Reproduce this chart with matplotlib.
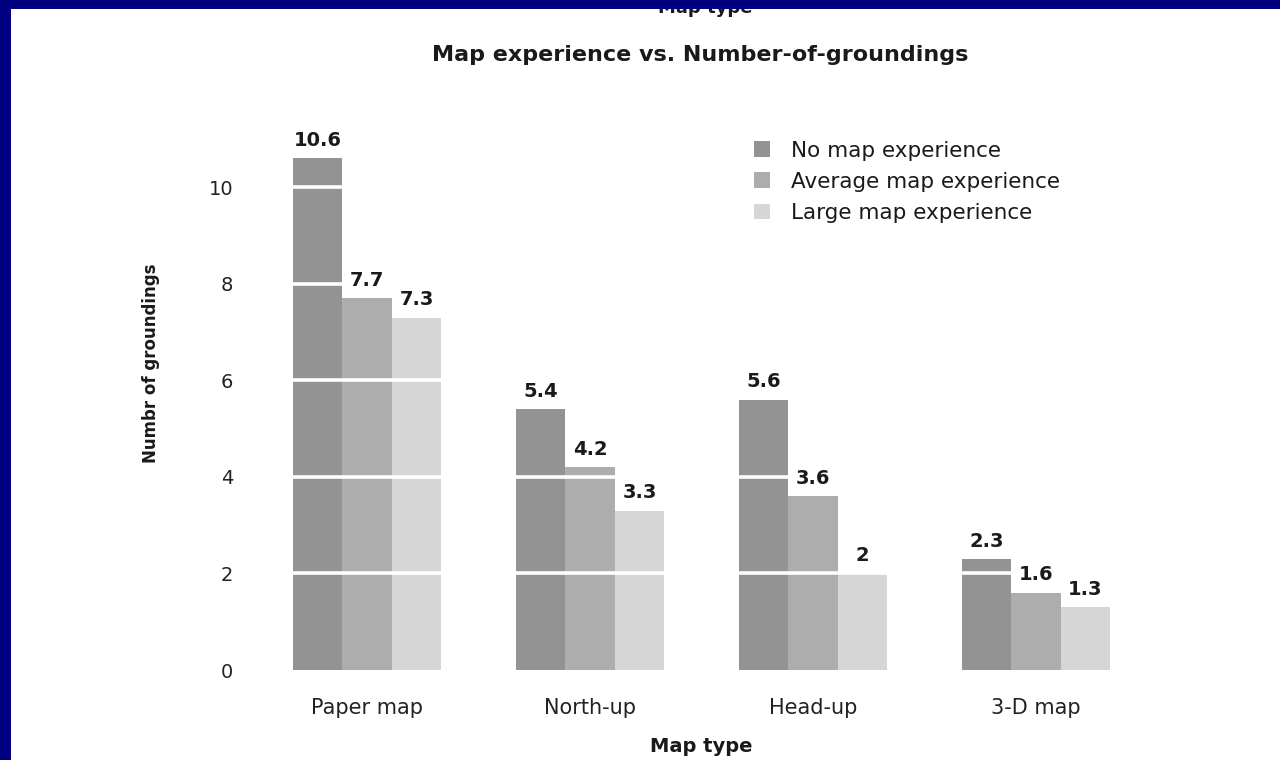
import matplotlib
matplotlib.use("Agg")
import matplotlib.pyplot as plt
import numpy as np
from matplotlib.patches import Rectangle

categories = ["Paper map", "North-up", "Head-up", "3-D map"]
series_names = ["No map experience", "Average map experience", "Large map experience"]
no_exp = [10.6, 5.4, 5.6, 2.3]
avg_exp = [7.7, 4.2, 3.6, 1.6]
large_exp = [7.3, 3.3, 2.0, 1.3]
value_labels = [["10.6", "5.4", "5.6", "2.3"],
                ["7.7", "4.2", "3.6", "1.6"],
                ["7.3", "3.3", "2", "1.3"]]
yticks = [0, 2, 4, 6, 8, 10]

colors = ["#939393", "#adadad", "#d6d6d6"]

plt.rcParams['font.family'] = ['DejaVu Sans']

fig = plt.figure(figsize=(12.8, 7.6), dpi=100)
fig.patch.set_facecolor("white")
ax = fig.add_axes([255.5 / 1280, 90 / 760, 892 / 1280, 531 / 760])

x = np.arange(len(categories))
w = 0.222
series = [no_exp, avg_exp, large_exp]
for i, (vals, name, col) in enumerate(zip(series, series_names, colors)):
    pos = x + (i - 1) * w
    ax.bar(pos, vals, width=w, color=col, label=name, zorder=1, linewidth=0)
    for p, v, lab in zip(pos, vals, value_labels[i]):
        ax.annotate(lab, (p, v), xytext=(0, 6), textcoords="offset points",
                    ha="center", va="bottom", fontsize=14, fontweight="bold",
                    color="#1a1a1a")

for t in yticks[1:]:
    ax.axhline(t, color="white", linewidth=2.6, zorder=2)

ax.set_xlim(-0.5, 3.5)
ax.set_ylim(0, 11)
ax.set_yticks(yticks)
ax.set_yticklabels([str(t) for t in yticks], fontsize=14, color="#222222")
ax.set_xticks(x)
ax.set_xticklabels(categories, fontsize=15, color="#222222")
ax.tick_params(axis="both", length=0)
ax.tick_params(axis="x", pad=20)
ax.tick_params(axis="y", pad=16)
for s in ax.spines.values():
    s.set_visible(False)
ax.set_facecolor("white")

ax.set_ylabel("Numbr of groundings", fontsize=12, fontweight="bold", color="#1a1a1a")
ax.yaxis.set_label_coords(-0.107, 0.578)
ax.set_xlabel("Map type", fontsize=14, fontweight="bold", color="#1a1a1a")
ax.xaxis.set_label_coords(0.5, -0.126)

leg = ax.legend(loc="upper left", bbox_to_anchor=(745 / 1280, 1 - 132 / 760),
                bbox_transform=fig.transFigure, frameon=False, fontsize=15.5,
                handlelength=0.75, handleheight=0.75, handletextpad=1.0,
                labelspacing=0.52, borderaxespad=0)
for t in leg.get_texts():
    t.set_color("#1a1a1a")

fig.text(700 / 1280, 1 - 55 / 760, "Map experience vs. Number-of-groundings",
         ha="center", va="center", fontsize=16, fontweight="bold", color="#1a1a1a")
fig.text(705 / 1280, 1 - 8 / 760, "Map type", ha="center", va="center",
         fontsize=13, fontweight="bold", color="#1a1a1a")

navy = "#000080"
fig.patches.append(Rectangle((0, 1 - 9 / 760), 1, 9 / 760, transform=fig.transFigure,
                             facecolor=navy, edgecolor="none", zorder=10))
fig.patches.append(Rectangle((0, 0), 11 / 1280, 1, transform=fig.transFigure,
                             facecolor=navy, edgecolor="none", zorder=10))

fig.savefig("out.png", dpi=100, facecolor="white")
